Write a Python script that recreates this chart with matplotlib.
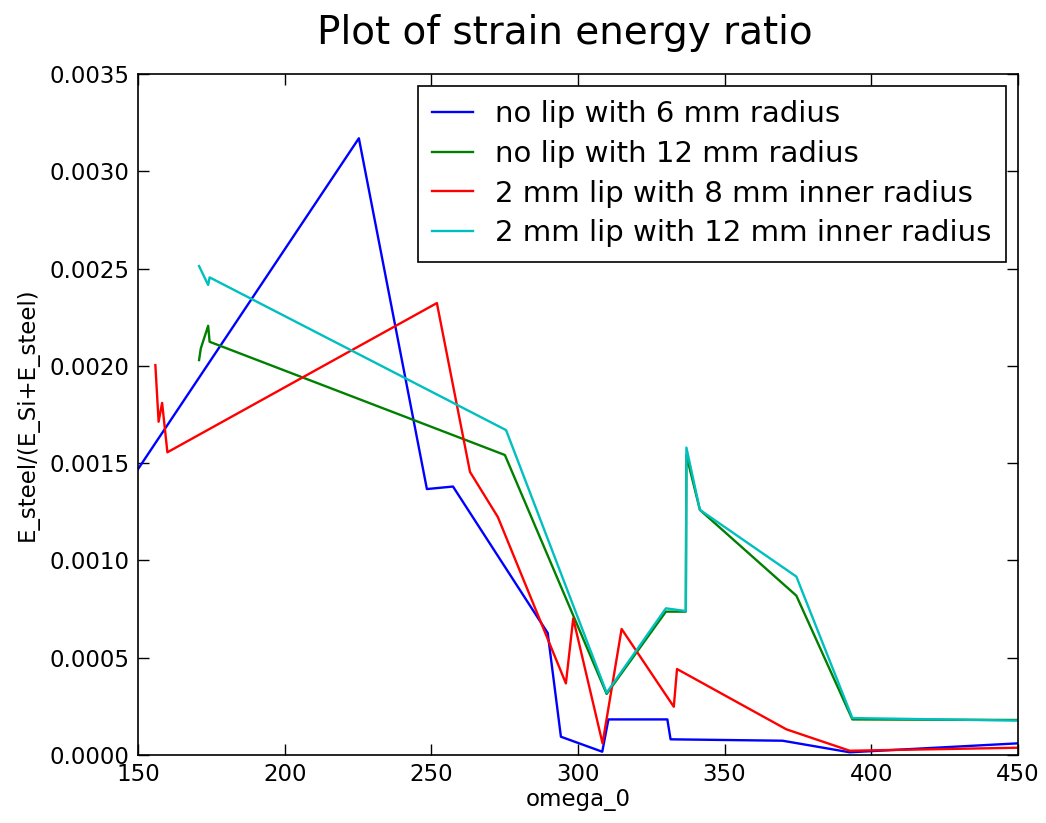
import matplotlib

matplotlib.use("Agg")
import matplotlib.pyplot as plt

# omega_0 values and energy ratios
omega_6mm = [150, 225.3, 248.5, 257.4, 289.7, 294.2, 308.3, 310.4, 330.5, 331.6, 369.8, 392.7, 450]
ratio_6mm = [0.00147, 0.00317, 0.001367, 0.00138, 0.000627, 0.000094, 0.000017, 0.000183, 0.000183,
             0.0000807, 0.0000735, 0.000014, 0.00006]

omega_12mm = [170.8, 171.4, 173.9, 174.4, 275.1, 309.8, 330.0, 336.8, 337.0, 341.6, 374.5, 393.6, 450]
ratio_12mm = [0.00203, 0.00209, 0.002206, 0.002124, 0.001542, 0.000314, 0.000737, 0.000737, 0.00154,
              0.00126, 0.000819, 0.000183, 0.00018]

omega_lip8 = [155.9, 157.0, 158.2, 160.0, 251.9, 263.2, 272.7, 295.9, 298.4, 308.4, 314.9, 332.7, 333.8,
              371.1, 392.7, 450]
ratio_lip8 = [0.002004, 0.001713, 0.00181, 0.001556, 0.002323, 0.001455, 0.001223, 0.000368, 0.000702,
              0.00006, 0.000648, 0.000248, 0.000442, 0.000132, 0.000022, 0.0000375]

omega_lip12 = [170.8, 173.9, 174.4, 275.5, 309.8, 330.0, 336.8, 337.0, 341.6, 374.5, 393.6, 450]
ratio_lip12 = [0.002513, 0.002416, 0.002455, 0.00167, 0.00032, 0.000754, 0.00074, 0.00158, 0.00126,
               0.000917, 0.00019, 0.000177]

labels = [
    "no lip with 6 mm radius",
    "no lip with 12 mm radius",
    "2 mm lip with 8 mm inner radius",
    "2 mm lip with 12 mm inner radius",
]

fig = plt.figure(figsize=(10.46, 8.23), dpi=100)
ax = fig.add_axes([0.132, 0.0826, 0.841, 0.8274])

ax.plot(omega_6mm, ratio_6mm, color="b", lw=1.7, label=labels[0])
ax.plot(omega_12mm, ratio_12mm, color="g", lw=1.7, label=labels[1])
ax.plot(omega_lip8, ratio_lip8, color="r", lw=1.7, label=labels[2])
ax.plot(omega_lip12, ratio_lip12, color="c", lw=1.7, label=labels[3])

ax.set_xlim(150, 450)
ax.set_ylim(0, 0.0035)
ax.set_xticks([150, 200, 250, 300, 350, 400, 450])
ax.set_yticks([0.0, 0.0005, 0.0010, 0.0015, 0.0020, 0.0025, 0.0030, 0.0035])
ax.yaxis.set_major_formatter(matplotlib.ticker.FormatStrFormatter("%.4f"))

# old-style ticks: inward, on all four sides
ax.tick_params(direction="in", top=True, right=True, length=8, width=1, labelsize=16.5, pad=6)
for spine in ax.spines.values():
    spine.set_linewidth(1.2)

ax.set_xlabel("omega_0", fontsize=16.5, labelpad=1)
ax.set_ylabel("E_steel/(E_Si+E_steel)", fontsize=16.5, labelpad=8)
ax.set_title("Plot of strain energy ratio", fontsize=28, pad=22, x=0.485)

leg = ax.legend(loc="upper right", fontsize=21, fancybox=False, framealpha=1,
                edgecolor="black", borderaxespad=0.4, borderpad=0.5, handlelength=1.4,
                handletextpad=0.75, labelspacing=0.4)
leg.get_frame().set_linewidth(1.2)

fig.savefig("out.png", dpi=100, facecolor="white")
